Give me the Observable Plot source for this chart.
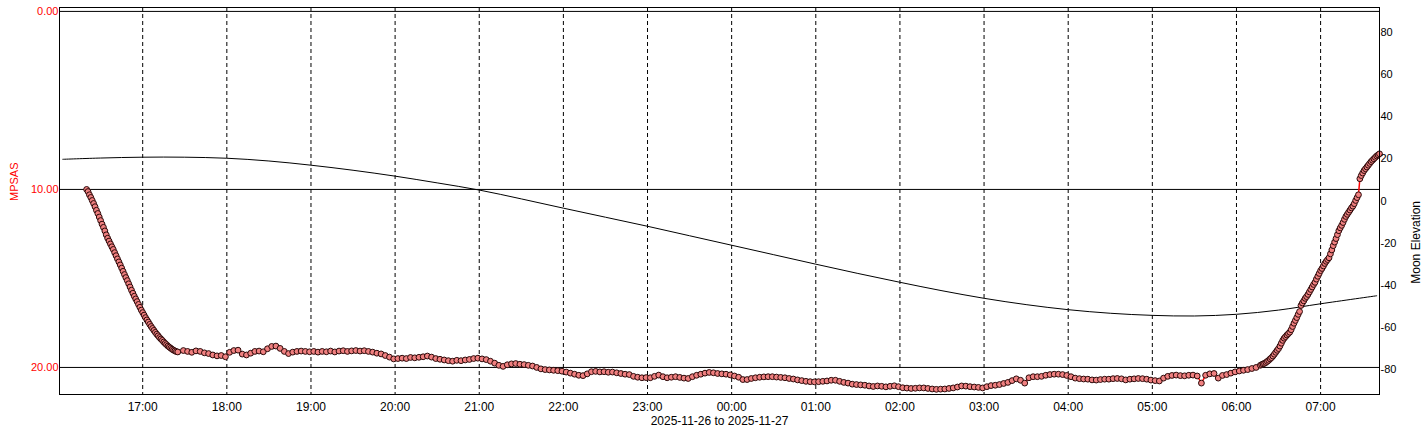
<!DOCTYPE html>
<html><head><meta charset="utf-8">
<script src="https://cdn.jsdelivr.net/npm/d3@7"></script>
<script src="https://cdn.jsdelivr.net/npm/@observablehq/plot@0.6"></script>
<style>body{margin:0;background:#fff}</style>
</head><body><div id="chart"></div>
<script>
// Sky quality readings (MPSAS)
const duskStart = "2025-11-26T16:20:00Z"; // 1-minute samples
const duskMpsas = [
  10.00,10.12,10.30,10.45,10.62,10.79,10.97,11.17,11.35,11.55,
  11.75,11.95,12.13,12.33,12.55,12.74,12.90,13.06,13.22,13.37,
  13.55,13.72,13.90,14.07,14.24,14.42,14.60,14.78,14.95,15.12,
  15.30,15.48,15.66,15.83,16.00,16.15,16.30,16.46,16.62,16.78,
  16.92,17.06,17.20,17.33,17.45,17.58,17.70,17.81,17.92,18.03,
  18.13,18.22,18.32,18.40,18.48,18.57,18.65,18.72,18.80,18.86,
  18.92,18.98,19.03,19.07,19.11,19.13
];
const nightStart = "2025-11-26T17:29:00Z"; // 3-minute samples
const nightMpsas = [
  19.05,19.10,19.15,19.07,19.10,19.18,19.22,19.30,19.35,19.33,19.40,
  19.15,19.05,19.03,19.25,19.30,19.20,19.10,19.08,19.12,18.95,18.82,18.80,18.93,19.10,19.22,19.14,19.10,19.08,19.10,19.12,
  19.10,19.14,19.10,19.12,19.08,19.13,19.08,19.06,19.10,19.07,19.05,19.08,19.06,19.10,19.14,19.20,19.24,19.33,19.42,19.52,
  19.50,19.48,19.50,19.44,19.46,19.43,19.40,19.36,19.42,19.50,19.54,19.58,19.62,19.65,19.60,19.62,19.58,19.55,19.50,19.48,
  19.52,19.56,19.65,19.76,19.88,19.94,19.85,19.80,19.78,19.82,19.84,19.88,19.92,20.00,20.08,20.12,20.14,20.16,20.18,20.21,
  20.26,20.32,20.38,20.44,20.46,20.36,20.24,20.22,20.25,20.24,20.27,20.26,20.30,20.34,20.38,20.40,20.50,20.55,20.58,20.57,
  20.58,20.50,20.43,20.52,20.58,20.55,20.52,20.56,20.60,20.62,20.52,20.44,20.38,20.32,20.28,20.30,20.34,20.36,20.38,20.42,
  20.48,20.55,20.68,20.68,20.62,20.58,20.55,20.53,20.52,20.52,20.54,20.56,20.58,20.62,20.65,20.70,20.74,20.78,20.80,20.81,
  20.80,20.78,20.76,20.72,20.72,20.78,20.84,20.88,20.94,20.96,20.98,21.00,21.04,21.07,21.04,21.06,21.09,21.06,21.03,21.08,
  21.14,21.16,21.18,21.17,21.15,21.15,21.18,21.21,21.23,21.22,21.21,21.18,21.15,21.10,21.04,21.05,21.08,21.10,21.12,21.15,
  21.08,21.02,21.00,20.96,20.90,20.84,20.74,20.64,20.72,20.88,20.58,20.52,20.52,20.50,20.44,20.40,20.38,20.38,20.40,20.45,
  20.52,20.60,20.63,20.65,20.66,20.70,20.71,20.68,20.66,20.66,20.63,20.62,20.64,20.70,20.66,20.64,20.62,20.63,20.66,20.71,
  20.74,20.76,20.60,20.50,20.45,20.43,20.46,20.47,20.44,20.43,20.48,20.88,20.44,20.36,20.34,20.60,20.45,20.40,20.32,20.25,
  20.20,20.16,20.12,20.06,20.00,19.88
];
const dawnStart = "2025-11-27T06:18:00Z"; // 1-minute samples
const dawnMpsas = [
  19.84,19.80,19.77,19.72,19.66,19.60,19.52,19.45,19.36,19.26,
  19.15,19.04,18.94,18.80,18.64,18.48,18.36,18.27,18.18,18.10,
  18.02,17.88,17.70,17.52,17.36,17.20,17.02,16.86,16.52,16.38,
  16.26,16.12,16.02,15.90,15.76,15.62,15.48,15.34,15.22,15.04,
  14.88,14.72,14.56,14.44,14.30,14.16,14.04,13.94,13.84,13.62,
  13.40,13.16,12.96,12.76,12.54,12.32,12.16,12.02,11.86,11.68,
  11.52,11.40,11.28,11.16,11.04,10.94,10.80,10.62,10.46,10.30,
  9.40,9.22,9.08,8.94,8.84,8.74,8.64,8.54,8.44,8.36,
  8.28,8.20,8.12,8.06,8.00
];

// Moon elevation (degrees)
const moonTimes = [
  "2025-11-26T16:03:00Z","2025-11-26T16:30:00Z","2025-11-26T17:00:00Z","2025-11-26T17:30:00Z",
  "2025-11-26T18:00:00Z","2025-11-26T18:30:00Z","2025-11-26T19:00:00Z","2025-11-26T19:30:00Z",
  "2025-11-26T20:00:00Z","2025-11-26T20:30:00Z","2025-11-26T21:00:00Z","2025-11-26T21:30:00Z",
  "2025-11-26T22:00:00Z","2025-11-26T22:30:00Z","2025-11-26T23:00:00Z","2025-11-26T23:30:00Z",
  "2025-11-27T00:00:00Z","2025-11-27T00:30:00Z","2025-11-27T01:00:00Z","2025-11-27T01:30:00Z",
  "2025-11-27T02:00:00Z","2025-11-27T02:30:00Z","2025-11-27T03:00:00Z","2025-11-27T03:30:00Z",
  "2025-11-27T04:00:00Z","2025-11-27T04:30:00Z","2025-11-27T05:00:00Z","2025-11-27T05:30:00Z",
  "2025-11-27T06:00:00Z","2025-11-27T06:30:00Z","2025-11-27T07:00:00Z","2025-11-27T07:40:00Z"
];
const moonElevation = [
  19.8,20.4,20.8,20.8,20.3,19.0,17.0,14.6,11.8,8.6,5.2,1.0,
  -3.4,-7.7,-12.0,-16.5,-21.0,-25.5,-30.0,-34.4,-38.6,-42.6,-46.2,-49.2,
  -51.6,-53.3,-54.3,-54.6,-53.8,-51.8,-48.8,-45.0
];

// Axes
const hourTicks = [
  "2025-11-26T17:00:00Z","2025-11-26T18:00:00Z","2025-11-26T19:00:00Z","2025-11-26T20:00:00Z",
  "2025-11-26T21:00:00Z","2025-11-26T22:00:00Z","2025-11-26T23:00:00Z","2025-11-27T00:00:00Z",
  "2025-11-27T01:00:00Z","2025-11-27T02:00:00Z","2025-11-27T03:00:00Z","2025-11-27T04:00:00Z",
  "2025-11-27T05:00:00Z","2025-11-27T06:00:00Z","2025-11-27T07:00:00Z"
];
const mpsasTicks = [0, 10, 20];
const elevationTicks = [80, 60, 40, 20, 0, -20, -40, -60, -80];
const xDomain = ["2025-11-26T16:00:40Z", "2025-11-27T07:42:00Z"];
const yDomain = [-0.22, 21.52];
const xLabel = "2025-11-26 to 2025-11-27";

// ---- build ----
function series(start, stepMin, values) {
  const t0 = new Date(start).getTime();
  return values.map((v, i) => ({t: new Date(t0 + i * stepMin * 60000), v}));
}
const sqm = [
  ...series(duskStart, 1, duskMpsas),
  ...series(nightStart, 3, nightMpsas),
  ...series(dawnStart, 1, dawnMpsas)
];
const moon = moonTimes.map((t, i) => ({t: new Date(t), e: moonElevation[i]}));
// secondary axis: elevation mapped onto MPSAS coordinates (0° at 10.65, ±92° at edges)
const elevToY = e => 10.65 - e * 0.11831;
const yToElev = y => (10.65 - y) / 0.11831;
const hours = hourTicks.map(d => new Date(d));
const fmt = d3.utcFormat("%H:%M");

const chart = Plot.plot({
  width: 1428,
  height: 432,
  marginTop: 7,
  marginBottom: 38,
  marginLeft: 59,
  marginRight: 49,
  style: {fontFamily: "'Liberation Sans', Arial, sans-serif", fontSize: "12px", background: "#fff", color: "#000"},
  x: {type: "utc", domain: xDomain.map(d => new Date(d))},
  y: {domain: yDomain, reverse: true},
  marks: [
    Plot.ruleX(hours, {stroke: "#000", strokeWidth: 1, strokeDasharray: "4,3"}),
    Plot.ruleY(mpsasTicks, {stroke: "#000", strokeWidth: 1}),
    Plot.line(moon, {x: "t", y: d => elevToY(d.e), stroke: "#000", strokeWidth: 1, curve: "catmull-rom"}),
    Plot.line(sqm, {x: "t", y: "v", stroke: "red", strokeWidth: 1.5}),
    Plot.dot(sqm, {x: "t", y: "v", r: 2.9, fill: "#f08080", stroke: "#2a0808", strokeWidth: 1}),
    Plot.frame({stroke: "#000", strokeWidth: 1}),
    Plot.axisX(hours, {tickFormat: fmt, tickSize: 0, tickPadding: 8, fontSize: 12, label: null, color: "#000"}),
    Plot.axisY(mpsasTicks, {anchor: "left", tickFormat: d => d.toFixed(2), tickSize: 0, tickPadding: 1, fontSize: 11, color: "red", label: null}),
    Plot.axisY(elevationTicks.map(elevToY), {anchor: "right", tickFormat: d => String(Math.round(yToElev(d))), tickSize: 0, tickPadding: 1, fontSize: 11, color: "#000", label: null}),
    Plot.text([xLabel], {frameAnchor: "bottom", dy: 30, fontSize: 12, fill: "#000"}),
    Plot.text(["MPSAS"], {frameAnchor: "left", dx: -45, rotate: -90, fontSize: 11, fill: "red"}),
    Plot.text(["Moon Elevation"], {frameAnchor: "right", dx: 37, rotate: -90, fontSize: 12, fill: "#000"})
  ]
});
document.getElementById("chart").appendChild(chart);
</script>
</body></html>
